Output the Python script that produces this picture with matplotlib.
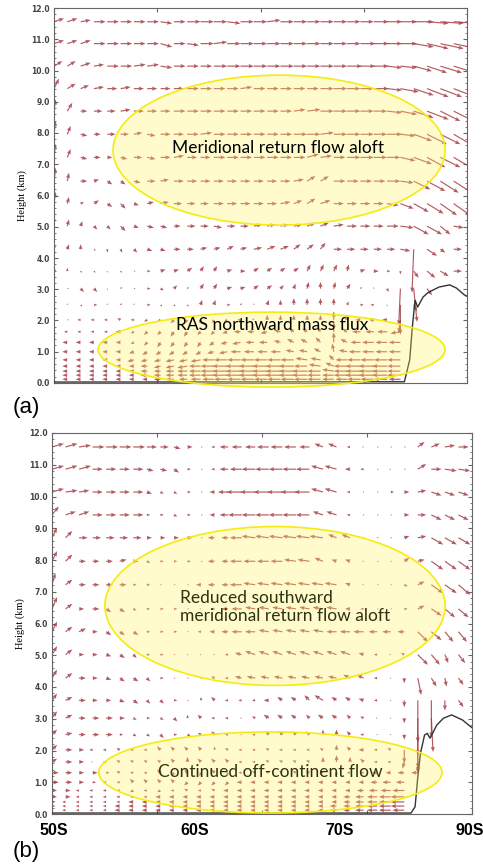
import matplotlib
matplotlib.use("Agg")
import matplotlib.pyplot as plt
from matplotlib.patches import Ellipse
from matplotlib.ticker import MultipleLocator
import numpy as np

# =========================
# DATA
# =========================
# vertical levels of the wind vectors (km); columns are grid index 0..30
levels = [11.56, 10.86, 10.14, 9.42, 8.70, 7.96, 7.22, 6.46, 5.74, 5.02, 4.28, 3.58,
          3.02, 2.50, 2.02, 1.64, 1.30, 1.00, 0.74, 0.54, 0.38, 0.25, 0.12]
n_cols = 31

# panel (a): horizontal (u) and vertical (w) components, one row per level
u_a = [
    [6,6,6,7,7,7,7,7,7,7, 8,8,8,8,8,8,8,8,8,8, 8,8,8,8,9,9,10,12,13,14, 14],
    [6,6,6,7,7,7,7,7,7,7, 7,8,8,8,8,8,8,8,8,8, 8,8,8,9,9,9,10,12,13,14, 14],
    [5,5,6,6,7,7,7,7,7,7, 7,7,8,8,8,8,8,8,8,8, 8,8,9,9,9,9,10,11,12,13, 13],
    [3,5,5,6,6,6,6,6,6,6, 7,7,7,7,7,7,7,7,7,7, 8,8,8,8,9,9,11,12,13,13, 13],
    [1,3,4,5,5,6,6,6,6,7, 7,7,7,7,7,7,7,7,7,8, 8,8,8,8,8,9,10,12,13,12, 12],
    [1,2,4,4,5,5,5,5,6,6, 7,7,7,7,7,7,7,7,8,8, 8,8,8,8,8,9,9,11,12,12, 12],
    [1,2,4,4,3,4,5,5,6,6, 6,6,7,7,7,7,7,7,7,7, 7,7,8,8,8,8,9,11,11,12, 12],
    [1,1,4,3,3,3,4,5,5,6, 6,6,6,6,6,6,6,6,6,5, 5,7,7,7,7,8,8,10,11,11, 11],
    [1,1,2,3,3,3,3,4,5,5, 5,5,6,6,6,6,6,6,5,5, 6,6,6,6,6,7,8,9,10,10, 10],
    [0,1,1,2,2,3,3,4,4,4, 5,5,5,5,5,5,5,5,5,5, 5,6,6,6,6,7,8,9,9,6, 6],
    [0,1,0,1,0,1,2,3,3,4, 4,4,4,4,4,5,5,5,4,4, 3,5,5,5,5,5,6,-1,6,3, 5],
    [0,0,1,1,0,1,1,2,3,3, 3,2,2,3,3,3,3,3,3,2, 2,2,1,3,3,2,0,3,5,5, 5],
    [0,1,2,2,0,1,1,2,2,2, 1,2,2,3,3,3,3,2,1,1, 0,1,2,1,0,1,-1,2,3,-1, 3],
    [0,0,1,2,0,1,0,2,1,1, 1,1,1,2,1,0,1,0,0,0, 0,0,1,2,-2,0,0,2,2,2, 2],
    [0,1,-2,-2,-2,-2,-2,-2,-2,-2, -1,-1,-1,-2,-2,-1,0,0,0,0, 0,0,-1,-3,-3,-3,-1,0,0,0, 0],
    [0,-2,-2,-2,-2,-3,-2,-2,-2,-2, -2,-2,-2,-3,-4,-4,-4,-4,-3,-3, -2,0,-3,-5,-5,-6,-6,0,0,0, 0],
    [-1,-3,-3,-3,-3,-3,-2,-2,-2,-2, -2,-2,-3,-4,-5,-5,-5,-4,-4,-4, -3,0,-4,-6,-7,-7,-7,0,0,0, 0],
    [-2,-3,-3,-3,-3,-3,-3,-3,-3,-3, -3,-3,-4,-5,-6,-6,-6,-6,-5,-5, -4,-1,-5,-7,-7,-7,-7,0,0,0, 0],
    [-2,-3,-3,-3,-3,-3,-4,-4,-4,-5, -5,-6,-7,-8,-8,-8,-8,-8,-8,-7, -6,-3,-7,-8,-8,-8,-8,0,0,0, 0],
    [-2,-3,-3,-3,-3,-3,-3,-4,-4,-5, -6,-7,-8,-9,-9,-9,-9,-9,-9,-8, -7,-5,-8,-9,-9,-9,-8,0,0,0, 0],
    [-2,-3,-3,-3,-3,-3,-3,-4,-4,-5, -6,-7,-8,-9,-9,-9,-9,-9,-9,-9, -8,-7,-8,-9,-9,-9,-8,0,0,0, 0],
    [-2,-3,-3,-3,-3,-3,-3,-4,-4,-5, -6,-7,-8,-9,-9,-9,-9,-9,-9,-9, -8,-7,-8,-9,-9,-9,-8,0,0,0, 0],
    [-2,-3,-3,-3,-3,-3,-3,-3,-4,-5, -5,-6,-7,-8,-8,-8,-8,-8,-8,-8, -8,-7,-7,-8,-8,-8,-7,0,0,0, 0],
]
w_a = [
    [2,2,1,0,0,0,0,0,-1,0, 0,0,0,-1,0,0,1,0,0,0, 0,0,0,0,0,0,0,0,-1,-1, -1],
    [2,2,2,0,0,0,0,0,-2,0, -1,0,1,0,0,0,0,0,0,0, 0,0,0,0,0,0,0,-2,-3,-3, -3],
    [3,3,2,1,0,0,1,1,-1,0, 0,0,0,0,0,0,0,0,0,0, 0,0,0,0,0,-1,-1,-3,-4,-4, -4],
    [6,3,2,1,0,1,0,0,0,0, 0,0,0,0,1,0,0,0,0,0, 0,0,0,0,0,-1,-2,-4,-5,-5, -5],
    [7,5,0,0,0,1,0,0,0,0, 0,0,0,0,0,0,0,0,1,1, 0,0,0,0,0,-1,-2,-4,-5,-6, -6],
    [8,5,-1,0,0,0,1,-1,0,0, 0,1,0,0,0,0,0,0,0,0, 1,0,0,0,0,0,-1,-4,-6,-6, -7],
    [8,5,-1,0,0,-1,0,-1,0,1, 0,0,0,0,0,0,0,0,0,2, 1,0,0,0,0,0,-2,-4,-6,-6, -7],
    [8,5,0,1,-2,-2,-1,0,1,0, 0,0,0,0,0,0,0,0,1,3, 3,0,0,0,0,0,-1,-5,-6,-7, -7],
    [7,4,1,2,-2,-3,-1,1,1,0, 0,0,0,0,0,0,0,1,2,3, 2,0,0,0,0,-1,-3,-5,-6,-7, -7],
    [6,4,3,-2,-2,-3,-1,-1,-1,0, 0,0,-1,0,0,1,1,1,1,2, 2,1,0,0,0,0,-1,-5,-5,-5, -1],
    [4,3,3,-1,-2,-2,-2,-1,-1,0, 0,1,1,2,1,1,2,2,3,3, 4,0,0,0,0,0,-1,-26,-4,-2, 0],
    [3,2,-1,-1,-1,-1,0,0,1,1, 2,3,3,1,0,2,2,2,2,4, 4,4,4,1,0,0,-2,-4,-4,-3, 0],
    [2,0,-2,-2,-1,1,0,0,-1,2, 1,3,3,1,1,2,2,2,3,4, 4,4,3,1,1,-2,-22,-20,-4,-3, 0],
    [2,1,-1,0,1,1,1,0,-1,-1, -1,3,3,0,1,1,3,3,4,4, 4,4,2,0,0,-1,-18,-4,-4,-4, -4],
    [1,0,0,0,0,1,0,-1,-1,-2, -2,-2,-2,-1,0,1,3,3,3,3, 3,5,3,0,0,0,-8,0,0,0, 0],
    [1,0,0,0,0,0,-1,-2,-2,-3, -3,-2,-2,-1,0,0,-1,1,2,2, 3,6,2,0,0,0,-1,0,0,0, 0],
    [0,0,0,0,0,0,-1,-2,-3,-3, -3,-3,-2,-1,-1,0,0,1,2,2, 3,6,2,0,0,0,0,0,0,0, 0],
    [0,0,0,0,0,0,-1,-2,-2,-2, -2,-2,-1,-1,0,0,0,0,1,1, 2,5,1,0,0,0,0,0,0,0, 0],
    [0,0,0,0,0,0,-1,-1,-1,-1, -1,-1,0,0,0,0,0,0,0,1, 1,3,0,0,0,0,0,0,0,0, 0],
    [0,0,0,0,0,0,0,0,-1,-1, -1,0,0,0,0,0,0,0,0,0, 1,2,0,0,0,0,0,0,0,0, 0],
    [0,0,0,0,0,0,0,0,0,0, 0,0,0,0,0,0,0,0,0,0, 0,1,0,0,0,0,0,0,0,0, 0],
    [0,0,0,0,0,0,0,0,0,0, 0,0,0,0,0,0,0,0,0,0, 0,0,0,0,0,0,0,0,0,0, 0],
    [0,0,0,0,0,0,0,0,0,0, 0,0,0,0,0,0,0,0,0,0, 0,0,0,0,0,0,0,0,0,0, 0],
]

# panel (b)
u_b = [
    [7,7,7,7,7,7,7,6,5,4, 3,1,-2,-5,-6,-6,-7,-7,-7,-6, -5,-5,-2,-1,1,1,1,4,5,6, 6],
    [7,7,7,6,6,6,6,4,4,3, 2,1,-2,-5,-7,-8,-8,-8,-8,-8, -7,-7,-3,-2,1,-1,1,5,6,7, 7],
    [7,7,6,6,6,6,6,3,2,2, 2,1,-3,-6,-9,-9,-9,-9,-9,-9, -7,-7,-2,0.5,1,2,3,5,6,6, 6],
    [4,6,6,6,6,6,6,2,2,2, 2,1,-3,-5,-8,-8,-8,-8,-8,-8, -6,-6,-2,0.5,1,1,3,5,6,6, 6],
    [3,4,5,5,5,5,5,3,3,3, 3,1,-4,-4,-7,-8,-8,-8,-8,-8, -8,-5,-5,0.5,1,1,3,5,7,7, 7],
    [3,4,4,4,4,4,3,2,2,2, 2,1,-4,-4,-7,-7,-7,-7,-7,-7, -5,-3,-3,-1,1,1,3,4,7,7, 7],
    [2,4,4,4,4,4,2,2,1,1, 1,-3,-4,-4,-7,-7,-7,-7,-7,-7, -7,-7,-3,-1,1,1,2,4,7,7, 7],
    [3,4,3,4,3,3,2,2,2,2, 1,-1,-2,-4,-6,-6,-6,-6,-6,-6, -6,-6,-3,-2,1,1,2,4,6,6, 6],
    [3,4,4,3,3,3,3,2,2,2, 1,-2,-3,-4,-6,-6,-6,-6,-6,-6, -6,-6,-6,-6,-5,-5,-4,6,6,5, 5],
    [3,4,3,3,3,3,2,2,2,1, 0.5,-1,-1,-2,-4,-6,-6,-6,-6,-6, -6,-6,-6,-3,-2,-1,-2,6,5,2, 4],
    [3,4,4,3,3,3,3,2,2,1, 1,0.5,-2,-2,-4,-5,-5,-5,-5,-5, -5,-5,-4,-4,-2,0.5,0,2,3,1, 3],
    [3,4,4,3,3,3,3,2,2,2, 1,0,-2,-2,-2,-2,-3,-3,-3,-3, -5,-3,-3,-3,-2,0.5,0,0,0,0, 3],
    [3,4,4,4,4,3,2,2,2,2, 0,-2,-2,-2,-1,-2,-3,-3,-3,-2, -3,-3,-2,-2,-1,0.5,0,0,1,0, 0],
    [3,4,4,4,4,2,2,2,2,2, 2,-2,-2,-2,-1,-2,-2,-2,-2,-2, 0,0,-2,-2,0.5,0.5,0,0,0,0, 0],
    [3,4,3,-2,-2,-2,-2,-2,-2,-2, -2,-2,0,-2,-2,-2,-2,-2,-2,-2, -2,0,-2,-3,-2,-2,0,0,0,0, 0],
    [3,4,3,-1,-2,-2,-2,-2,-2,-2, 0,-2,-2,-2,-2,-2,-2,-2,-2,-2, 0,0,0,-2,-2,-2,-1,0,0,0, 0],
    [4,4,3,3,2,-2,-2,-2,-2,-1, -2,-1,-2,-1,-2,-2,-2,-2,-2,-2, -2,-1,-2,-2,-3,-3,-4,-4,0,0, 0],
    [4,4,3,2,-2,-2,-2,-2,-2,-2, -2,-2,-2,-2,-3,-3,-3,-3,-3,-3, -3,-3,-3,-3,-4,-5,-5,-5,0,0, 0],
    [3,3,-2,-2,-2,-2,-2,-2,-2,-2, -2,-2,-2,-3,-3,-3,-3,-3,-3,-3, -3,-3,-3,-4,-5,-6,-7,0,0,0, 0],
    [3,3,-2,-2,-2,-2,-2,-2,-3,-3, -3,-3,-3,-3,-3,-3,-3,-3,-3,-3, -3,-3,-4,-5,-6,-7,-8,0,0,0, 0],
    [2,-2,-2,-2,-2,-2,-3,-3,-3,-3, -3,-3,-3,-3,-3,-3,-3,-3,-3,-3, -3,-3,-4,-5,-6,-7,-8,0,0,0, 0],
    [2,-2,-2,-2,-2,-3,-3,-3,-3,-3, -3,-3,-3,-3,-3,-3,-3,-3,-3,-3, -3,-4,-4,-5,-6,-7,-8,0,0,0, 0],
    [-2,-2,-2,-2,-2,-3,-3,-3,-3,-3, -3,-3,-3,-3,-3,-3,-3,-3,-3,-3, -3,-4,-4,-5,-6,-7,-7,0,0,0, 0],
]
w_b = [
    [2,2,1,0,0,0,0,0,0,-1, 0,0,0,0,0,0,0,0,0,0, 2,2,0,0,0,0,0,3,2,1, 0],
    [2,2,2,0,0,0,0,-1,-1,-2, 0,0,0,0,0,0,0,0,0,0, 2,2,0,0,0,0,0,3,0,-1, -1],
    [2,1,1,0,0,0,0,-1,-1,-1, 0,0,0,0,0,0,0,0,0,0, 2,2,0,0,0,0,0,1,-2,-2, -2],
    [5,2,2,0,0,0,0,0,0,-1, 0,0,0,0,0,0,0,0,0,0, 2,2,0,0,0,0,0,0,-3,-3, -3],
    [6,4,0,0,0,0,0,0,0,0, 0,0,0,0,0,1,1,1,1,1, 1,2,2,0,0,0,1,1,-4,-4, -4],
    [6,4,0,0,0,1,0,-1,0,0, 0,0,0,0,0,0,0,0,1,1, 2,1,1,0,0,0,2,1,-5,-5, -5],
    [7,3,0,0,0,0,0,0,0,0, 0,0,0,0,0,1,1,1,1,1, 1,1,1,0,0,0,-1,2,-5,-5, -6],
    [7,3,0,0,-2,-2,-1,0,0,0, 0,0,0,0,0,1,1,1,1,1, 1,1,0,0,0,0,0,2,-4,-5, -5],
    [6,3,2,0,-2,-2,-2,0,0,0, 0,0,0,0,0,0,1,1,1,1, 1,0,0,0,0,0,0,-6,-5,-6, -6],
    [5,3,0,0,-1,-2,-2,0,0,0, 0,0,0,0,1,2,2,2,2,2, 2,2,2,1,0,0,1,-6,-6,-5, -5],
    [5,3,0,0,-1,-2,-2,-2,0,0, 0,0,1,0,1,1,1,1,1,1, 1,1,2,2,0,0,-3,-10,-5,-5, -4],
    [4,2,0,0,0,-1,-2,-2,-2,0, 0,2,2,0,0,0,0,2,2,3, 3,2,2,1,0,0,-4,-25,-22,-6, -4],
    [4,2,0,0,0,0,-1,0,-1,-2, 2,2,0,0,0,1,2,2,2,2, 2,2,2,1,0,0,-3,-22,-20,0, 0],
    [3,1,0,0,0,0,-1,-1,-2,0, -1,1,2,0,0,0,2,2,2,2, 3,3,2,0,0,0,-3,-20,0,0, 0],
    [3,0,0,0,0,1,0,0,2,2, 2,2,2,1,0,0,1,0,0,0, 1,3,2,0,0,1,-8,-14,0,0, 0],
    [2,0,0,0,0,1,1,1,1,2, 3,2,2,2,0,0,1,1,1,1, 3,4,3,2,0,0,-4,-6,0,0, 0],
    [0,0,0,0,0,1,0,0,2,-2, 2,-2,2,-2,0,1,1,1,1,1, 1,-2,0,0,0,0,0,0,0,0, 0],
    [0,0,0,0,0,0,2,2,2,2, -2,-2,-2,-2,0,0,0,0,0,0, 0,0,0,0,0,0,0,0,0,0, 0],
    [0,0,0,0,0,0,-1,0,-1,0, 1,0,1,0,0,0,0,0,0,0, 0,0,0,0,0,0,0,0,0,0, 0],
    [0,0,0,0,0,0,0,0,0,0, 0,0,0,0,0,0,0,0,0,0, 0,0,0,0,0,0,0,0,0,0, 0],
    [0,0,0,0,0,0,0,0,0,0, 0,0,0,0,0,0,0,0,0,0, 0,0,0,0,0,0,0,0,0,0, 0],
    [0,0,0,0,0,0,0,0,0,0, 0,0,0,0,0,0,0,0,0,0, 0,0,0,0,0,0,0,0,0,0, 0],
    [0,0,0,0,0,0,0,0,0,0, 0,0,0,0,0,0,0,0,0,0, 0,0,0,0,0,0,0,0,0,0, 0],
]

# terrain profile (grid index, km)
terrain_a_x = [0, 26.3, 26.7, 26.9, 27.1, 27.3, 27.7, 28.1, 28.9, 29.7, 30.2, 30.8, 31.0]
terrain_a_z = [0.03, 0.04, 0.74, 1.8, 2.65, 2.43, 2.75, 2.9, 3.07, 3.14, 3.04, 2.82, 2.78]
terrain_b_x = [0, 26.5, 26.8, 27.0, 27.2, 27.5, 27.7, 27.9, 28.1, 28.4, 28.9, 29.5, 30.3, 30.9, 31.0]
terrain_b_z = [0.03, 0.03, 0.23, 1.17, 1.92, 2.49, 2.54, 2.39, 2.55, 2.8, 3.02, 3.12, 2.96, 2.75, 2.72]

lat_labels = ["50S", "60S", "70S", "90S"]
lat_label_pos = [0.1, 10.5, 21.2, 30.8]

ARROW = "#a63c44"


def draw_panel(ax, u, w, tx, tz):
    cols = np.arange(n_cols)
    X, Z = np.meshgrid(cols, levels)
    U = np.array(u, dtype=float)
    W = np.array(w, dtype=float)
    ground = np.interp(cols, tx, tz)
    hide = (Z < ground[None, :]) | ((U == 0) & (W == 0))
    U[hide] = np.nan
    W[hide] = np.nan
    ax.quiver(X, Z, U, W, angles="uv", scale_units="x", scale=8, pivot="tail",
              color=ARROW, alpha=0.85, width=0.0028, headwidth=3.5,
              headlength=4.5, headaxislength=4, zorder=2)
    ax.plot(tx, tz, color="#333333", lw=1.0, zorder=3)

    ax.set_xlim(0, 31)
    ax.set_ylim(0, 12)
    ax.set_xticks(np.linspace(0, 31, 5))
    ax.set_xticklabels([])
    ax.set_yticks(np.arange(0, 12.5, 1.0))
    ax.yaxis.set_major_formatter("{x:.1f}")
    ax.yaxis.set_minor_locator(MultipleLocator(0.2))
    ax.tick_params(axis="y", which="both", direction="in", left=True, right=True,
                   labelsize=5.5, labelcolor="#444444", pad=3, color="#666666")
    ax.tick_params(axis="y", which="major", length=3)
    ax.tick_params(axis="y", which="minor", length=1.5)
    ax.tick_params(axis="x", direction="in", top=True, bottom=True, length=3,
                   color="#666666")
    for lab in ax.get_yticklabels():
        lab.set_fontweight("bold")
    for sp in ax.spines.values():
        sp.set_color("#666666")
        sp.set_linewidth(0.8)
    ax.set_ylabel("Height (km)", fontsize=7.5, family="Liberation Serif")
    ax.yaxis.set_label_coords(-0.065, 0.5)


def add_oval(ax, cx, cy, w, h):
    ax.add_patch(Ellipse((cx, cy), w, h, transform=ax.transAxes, clip_on=False,
                         facecolor=(1.0, 0.95, 0.35, 0.3), edgecolor="#f4ec10",
                         lw=1.2, zorder=4))


fig = plt.figure(figsize=(4.83, 8.65), dpi=100)
ax_a = fig.add_axes([54 / 483, (865 - 383) / 865, 413 / 483, 375 / 865])
ax_b = fig.add_axes([52 / 483, (865 - 814) / 865, 420 / 483, 381 / 865])

draw_panel(ax_a, u_a, w_a, terrain_a_x, terrain_a_z)
draw_panel(ax_b, u_b, w_b, terrain_b_x, terrain_b_z)

text_font = dict(family="Lato", fontsize=12.5, ha="center", va="center", zorder=5)

add_oval(ax_a, 0.545, 0.621, 0.804, 0.40)
add_oval(ax_a, 0.527, 0.089, 0.84, 0.20)
ax_a.text(0.542, 0.627, "Meridional return flow aloft", transform=ax_a.transAxes,
          color="black", **text_font)
ax_a.text(0.529, 0.155, "RAS northward mass flux", transform=ax_a.transAxes,
          color="black", **text_font)

add_oval(ax_b, 0.531, 0.546, 0.81, 0.417)
add_oval(ax_b, 0.52, 0.109, 0.817, 0.213)
ax_b.text(0.555, 0.543, "Reduced southward\nmeridional return flow aloft",
          transform=ax_b.transAxes, color="#2e3210", multialignment="left",
          linespacing=1.2, **text_font)
ax_b.text(0.52, 0.11, "Continued off-continent flow", transform=ax_b.transAxes,
          color="#2e3210", **text_font)

for lab, pos in zip(lat_labels, lat_label_pos):
    ax_b.text(pos, -0.042, lab, transform=ax_b.get_xaxis_transform(),
              ha="center", va="center", fontsize=11.5, fontweight="bold",
              family="Liberation Sans", clip_on=False)

fig.text(0.027, 0.529, "(a)", fontsize=16, family="Liberation Sans", va="center")
fig.text(0.027, 0.003, "(b)", fontsize=16, family="Liberation Sans", va="bottom")

fig.savefig("out.png", dpi=100)
